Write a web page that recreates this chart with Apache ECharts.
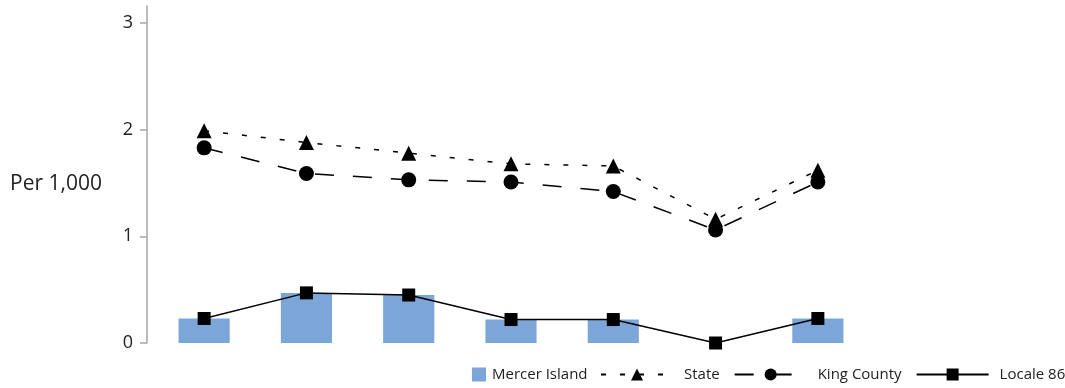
<!DOCTYPE html>
<html>
<head>
<meta charset="utf-8">
<script src="https://cdn.jsdelivr.net/npm/echarts@6/dist/echarts.min.js"></script>
<style>
  html, body { margin: 0; padding: 0; background: #fff; }
  #main { width: 1065px; height: 388px; }
</style>
</head>
<body>
<div id="main"></div>
<script>
// seven groups, no labels on the x axis
var categories = ['1', '2', '3', '4', '5', '6', '7'];
var mercerIsland = [0.23, 0.47, 0.45, 0.22, 0.22, 0, 0.23];
var stateVals = [1.99, 1.88, 1.78, 1.68, 1.66, 1.16, 1.62];
var kingCounty = [1.83, 1.59, 1.53, 1.51, 1.42, 1.06, 1.51];
var locale86 = [0.23, 0.47, 0.45, 0.22, 0.22, 0, 0.23];
var yTicks = [0, 1, 2, 3];

var myChart = echarts.init(document.getElementById('main'));

var fontName = 'Open Sans';

var option = {
    animation: false,
    textStyle: { fontFamily: fontName },
    title: {
        text: 'Per 1,000',
        left: 10,
        top: 174,
        padding: 0,
        textStyle: { fontSize: 21, color: '#222', fontWeight: 'normal', fontFamily: fontName }
    },
    grid: { left: 153, right: 196, top: 6, bottom: 45 },
    legend: [{
        left: 472,
        top: 367,
        padding: 0,
        itemWidth: 14,
        itemHeight: 14,
        icon: 'rect',
        data: ['Mercer Island'],
        textStyle: { fontSize: 15, color: '#222', fontFamily: fontName, padding: [0, 0, 0, 1] }
    }, {
        left: 600,
        top: 367,
        padding: 0,
        width: 470,
        itemWidth: 72,
        itemHeight: 15,
        itemGap: 14,
        data: ['State', 'King County', 'Locale 86'],
        textStyle: { fontSize: 15, color: '#222', fontFamily: fontName, padding: [0, 0, 0, 6] }
    }],
    xAxis: {
        type: 'category',
        data: categories,
        boundaryGap: true,
        axisLine: { show: false },
        axisTick: { show: false },
        axisLabel: { show: false }
    },
    yAxis: {
        type: 'value',
        min: 0,
        max: 3.16,
        offset: 6,
        splitLine: { show: false },
        axisLine: { show: true, lineStyle: { color: '#a6a6a6', width: 1.5 } },
        axisTick: { show: true, length: 7, customValues: yTicks, lineStyle: { color: '#a6a6a6', width: 1.5 } },
        axisLabel: { customValues: yTicks, fontSize: 18, color: '#222', margin: 14 }
    },
    series: [{
        name: 'Mercer Island',
        type: 'bar',
        data: mercerIsland,
        barWidth: '50%',
        itemStyle: { color: '#7ca6d8' }
    }, {
        name: 'State',
        type: 'line',
        data: stateVals,
        symbol: 'triangle',
        symbolSize: 15,
        color: '#000',
        lineStyle: { color: '#000', width: 1.5, type: [5, 14] },
        itemStyle: { color: '#000' },
        z: 3
    }, {
        name: 'King County',
        type: 'line',
        data: kingCounty,
        symbol: 'circle',
        symbolSize: 15,
        color: '#000',
        lineStyle: { color: '#000', width: 1.5, type: [19, 19] },
        itemStyle: { color: '#000' },
        z: 3
    }, {
        name: 'Locale 86',
        type: 'line',
        data: locale86,
        symbol: 'rect',
        symbolSize: 13,
        color: '#000',
        lineStyle: { color: '#000', width: 1.5 },
        itemStyle: { color: '#000' },
        z: 4
    }]
};

myChart.setOption(option);
</script>
</body>
</html>
